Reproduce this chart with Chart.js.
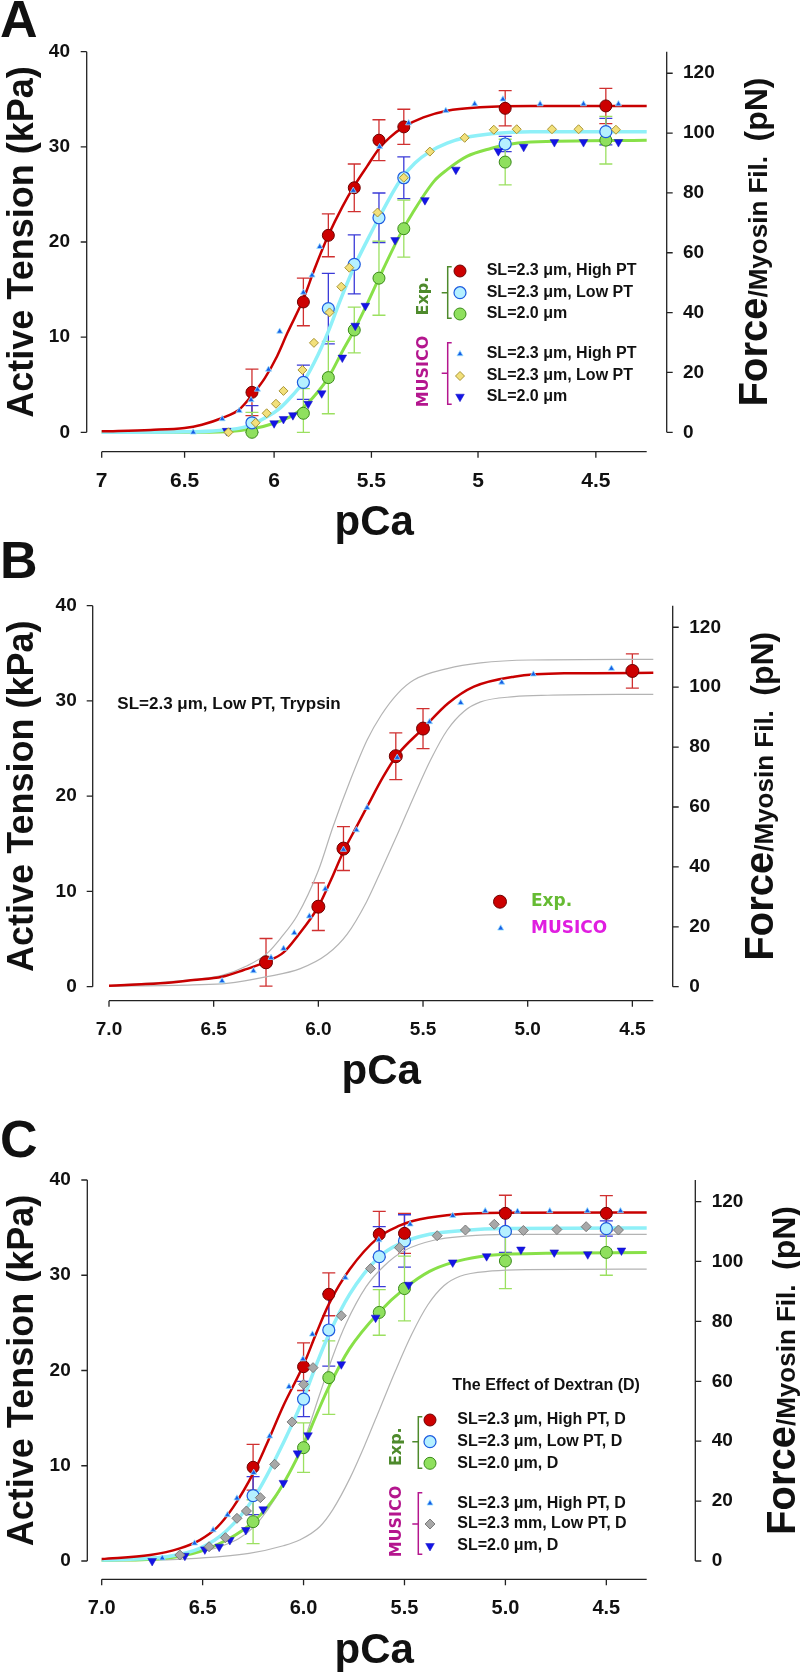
<!DOCTYPE html>
<html>
<head>
<meta charset="utf-8">
<script src="https://cdn.jsdelivr.net/npm/chart.js@4.4.1/dist/chart.umd.min.js"></script>
<style>
  html, body { margin: 0; padding: 0; background: #fff; }
  body { width: 800px; height: 1672px; position: relative; overflow: hidden; }
  .panel { position: absolute; left: 0; width: 800px; }
</style>
</head>
<body>
<div class="panel" style="top:0;height:550px"><canvas id="chartA"></canvas></div>
<div class="panel" style="top:540px;height:560px"><canvas id="chartB"></canvas></div>
<div class="panel" style="top:1085px;height:587px"><canvas id="chartC"></canvas></div>
<script>
// ---- axes ----
const kpaTicks = [0, 10, 20, 30, 40];
const pnTicks = [0, 20, 40, 60, 80, 100, 120];
const pnPerKpa = 3.18;
const pcaTicksA = [7, 6.5, 6, 5.5, 5, 4.5];
const pcaLabelsA = ['7', '6.5', '6', '5.5', '5', '4.5'];
const pcaTicksBC = [7.0, 6.5, 6.0, 5.5, 5.0, 4.5];
const pcaLabelsBC = ['7.0', '6.5', '6.0', '5.5', '5.0', '4.5'];

// ---- panel A: experiments ----
const aExpPCa = [6.12, 5.845, 5.716, 5.585, 5.463, 5.343, 4.88, 4.46];
const aHighPT = [4.2, 13.7, 20.7, 25.7, 30.7, 32.1, 34.05, 34.3];
const aHighPTErr = [2.45, 2.5, 2.25, 2.5, 2.15, 1.85, 1.85, 1.85];
const aLowPT = [1.0, 5.25, 13.0, 17.65, 22.55, 26.75, 30.3, 31.6];
const aLowPTErr = [1.8, 1.8, 3.7, 3.1, 2.6, 2.2, 0.8, 1.4];
const aSL20 = [0.0, 2.0, 5.75, 10.75, 16.2, 21.4, 28.4, 30.7];
const aSL20Err = [2.1, 2.6, 3.8, 2.4, 3.9, 3.0, 2.4, 2.5];
// panel A: MUSICO
const aMusHighPCa = [6.45, 6.285, 6.19, 6.125, 6.09, 6.03, 5.97, 5.845, 5.80, 5.76, 5.59, 5.46, 5.32, 5.146, 5.015, 4.89, 4.73, 4.55, 4.41];
const aMusHigh = [0.0, 1.4, 2.27, 3.4, 4.5, 6.6, 10.6, 14.7, 16.5, 19.5, 25.4, 30.0, 32.5, 33.8, 34.5, 35.0, 34.5, 34.5, 34.5];
const aMusLowPCa = [6.25, 6.10, 6.04, 5.99, 5.95, 5.85, 5.79, 5.71, 5.65, 5.61, 5.47, 5.343, 5.22, 5.06, 4.93, 4.83, 4.68, 4.57, 4.42];
const aMusLow = [0.0, 1.0, 2.0, 3.0, 4.35, 6.55, 9.4, 12.6, 15.3, 17.3, 23.1, 26.75, 29.5, 30.95, 31.8, 31.85, 31.85, 31.85, 31.8];
const aMusSL20PCa = [6.26, 6.0, 5.95, 5.90, 5.82, 5.75, 5.645, 5.58, 5.53, 5.385, 5.243, 5.10, 4.91, 4.80, 4.67, 4.55, 4.41];
const aMusSL20 = [0.15, 0.95, 1.4, 1.8, 3.0, 4.1, 7.85, 11.2, 13.3, 20.2, 24.4, 27.6, 29.55, 30.0, 30.5, 30.5, 30.5];
// panel A: fitted curves
const aFitRedPCa = [7.0, 6.7, 6.5, 6.4, 6.285, 6.19, 6.12, 6.05, 5.984, 5.93, 5.845, 5.79, 5.716, 5.645, 5.585, 5.52, 5.463, 5.41, 5.343, 5.25, 5.14, 4.99, 4.77, 4.3];
const aFitRed = [0.1, 0.25, 0.45, 0.8, 1.5, 2.4, 3.9, 5.7, 8.0, 10.4, 14.0, 17.0, 20.7, 23.7, 25.9, 28.0, 29.8, 31.0, 32.1, 33.1, 33.8, 34.15, 34.3, 34.3];
const aFitCyanPCa = [7.0, 6.5, 6.3, 6.15, 6.09, 5.98, 5.92, 5.845, 5.77, 5.716, 5.655, 5.585, 5.52, 5.463, 5.36, 5.29, 5.22, 5.14, 5.06, 4.93, 4.77, 4.3];
const aFitCyan = [0.0, 0.05, 0.2, 0.6, 1.1, 2.35, 3.5, 5.3, 8.1, 10.6, 13.9, 17.4, 20.2, 22.55, 26.5, 28.3, 29.5, 30.4, 30.95, 31.4, 31.6, 31.6];
const aFitGreenPCa = [7.0, 6.5, 6.26, 6.11, 6.0, 5.9, 5.83, 5.716, 5.645, 5.585, 5.52, 5.463, 5.36, 5.30, 5.20, 5.14, 5.05, 4.94, 4.88, 4.77, 4.3];
const aFitGreen = [0.0, 0.0, 0.07, 0.4, 0.95, 1.8, 2.9, 5.75, 8.5, 10.75, 13.55, 16.2, 20.8, 23.1, 26.4, 27.6, 29.0, 29.85, 30.2, 30.5, 30.7];

// ---- panel B ----
const bExpPCa = [6.25, 6.0, 5.88, 5.63, 5.5, 4.5];
const bExp = [2.56, 8.4, 14.5, 24.2, 27.1, 33.15];
const bExpErr = [2.5, 2.5, 2.3, 2.45, 2.1, 1.8];
const bMusPCa = [6.46, 6.31, 6.226, 6.166, 6.115, 6.043, 5.967, 5.88, 5.818, 5.767, 5.623, 5.469, 5.32, 5.124, 4.973, 4.60];
const bMus = [0.6, 1.65, 3.05, 4.0, 5.65, 7.4, 10.25, 14.4, 16.45, 18.8, 24.05, 27.8, 29.8, 31.95, 32.8, 33.4];
const bFitPCa = [7.0, 6.756, 6.597, 6.46, 6.357, 6.25, 6.166, 6.10, 6.0, 5.94, 5.88, 5.82, 5.767, 5.69, 5.628, 5.5, 5.38, 5.257, 5.065, 4.826, 4.4];
const bFit = [0.1, 0.35, 0.7, 1.05, 1.75, 2.6, 3.6, 5.3, 8.4, 11.2, 14.2, 16.7, 18.9, 22.05, 24.2, 27.1, 29.75, 31.5, 32.55, 32.9, 32.95];
const bRefHighPCa = [7.0, 6.6, 6.46, 6.34, 6.245, 6.18, 6.1, 6.0, 5.93, 5.847, 5.767, 5.70, 5.62, 5.544, 5.384, 5.225, 4.986, 4.4];
const bRefHigh = [0.1, 0.75, 1.2, 2.2, 3.5, 5.1, 7.5, 12.2, 16.8, 21.7, 25.9, 28.5, 30.8, 32.2, 33.4, 34.0, 34.3, 34.37];
const bRefLowPCa = [7.0, 6.6, 6.437, 6.245, 6.086, 5.958, 5.863, 5.77, 5.70, 5.62, 5.544, 5.464, 5.384, 5.305, 5.225, 5.065, 4.906, 4.4];
const bRefLow = [0.05, 0.2, 0.35, 1.05, 1.9, 3.4, 5.5, 8.9, 12.2, 16.1, 19.95, 23.8, 26.95, 28.9, 29.9, 30.45, 30.6, 30.7];

// ---- panel C: experiments ----
const cExpPCa = [6.25, 6.0, 5.875, 5.625, 5.5, 5.0, 4.5];
const cHighPT = [9.84, 20.4, 28.0, 34.3, 34.4, 36.5, 36.5];
const cHighPTErr = [2.4, 2.5, 2.25, 2.4, 2.1, 1.9, 1.85];
const cLowPT = [6.86, 17.0, 24.25, 31.95, 33.6, 34.6, 34.9];
const cLowPTErr = [2.0, 1.85, 3.8, 3.15, 2.75, 2.2, 0.8];
const cSL20 = [4.13, 11.9, 19.25, 26.1, 28.6, 31.5, 32.4];
const cSL20Err = [2.3, 2.6, 3.85, 2.4, 3.4, 2.9, 2.4];
// panel C: MUSICO
const cMusHighPCa = [6.70, 6.54, 6.448, 6.377, 6.33, 6.247, 6.168, 6.072, 6.003, 5.956, 5.793, 5.627, 5.472, 5.261, 5.10, 4.94, 4.78, 4.594, 4.43];
const cMusHigh = [0.3, 1.86, 3.25, 4.83, 6.58, 9.27, 13.1, 18.3, 21.2, 23.8, 29.75, 33.7, 35.35, 36.25, 36.75, 36.7, 36.75, 36.75, 36.75];
const cMusLowPCa = [6.613, 6.468, 6.387, 6.33, 6.283, 6.214, 6.143, 6.057, 6.0, 5.953, 5.813, 5.668, 5.525, 5.338, 5.198, 5.055, 4.911, 4.745, 4.60, 4.44];
const cMusLow = [0.63, 1.5, 2.45, 4.48, 5.25, 6.65, 10.15, 14.6, 18.55, 20.3, 25.75, 30.7, 32.9, 34.15, 34.75, 35.35, 34.7, 34.8, 35.1, 34.75];
const cMusSL20PCa = [6.75, 6.588, 6.489, 6.418, 6.365, 6.286, 6.20, 6.10, 6.03, 5.978, 5.813, 5.643, 5.479, 5.261, 5.093, 4.923, 4.758, 4.592, 4.425];
const cMusSL20 = [0.0, 0.55, 1.22, 1.5, 2.2, 3.25, 5.43, 8.2, 11.3, 13.2, 20.65, 25.55, 29.0, 31.35, 32.0, 32.7, 32.4, 32.2, 32.6];
// panel C: curves
const cFitRedPCa = [7.0, 6.76, 6.613, 6.514, 6.43, 6.35, 6.247, 6.184, 6.10, 6.0, 5.937, 5.874, 5.772, 5.627, 5.525, 5.459, 5.29, 5.0, 4.3];
const cFitRed = [0.2, 0.63, 1.33, 2.2, 3.5, 5.6, 9.3, 12.2, 16.3, 20.6, 23.9, 27.0, 30.6, 34.0, 35.2, 35.7, 36.3, 36.55, 36.6];
const cFitCyanPCa = [7.0, 6.68, 6.514, 6.38, 6.247, 6.135, 6.0, 5.937, 5.874, 5.772, 5.627, 5.525, 5.376, 5.21, 5.0, 4.3];
const cFitCyan = [0.1, 0.45, 1.33, 3.2, 6.6, 10.9, 17.1, 20.6, 23.8, 28.0, 31.9, 33.3, 34.3, 34.7, 34.9, 34.95];
const cFitGreenPCa = [7.0, 6.68, 6.514, 6.38, 6.247, 6.135, 6.0, 5.937, 5.874, 5.772, 5.627, 5.5, 5.376, 5.261, 5.13, 5.0, 4.8, 4.3];
const cFitGreen = [0.05, 0.3, 1.0, 2.2, 4.13, 6.93, 12.2, 15.3, 18.3, 22.3, 26.1, 28.6, 30.4, 31.35, 31.95, 32.2, 32.3, 32.4];
const cRefHighPCa = [7.0, 6.6, 6.4, 6.25, 6.1, 6.0, 5.92, 5.855, 5.79, 5.69, 5.6, 5.5, 5.35, 5.2, 5.0, 4.3];
const cRefHigh = [0.1, 0.7, 1.6, 3.5, 8.0, 12.5, 17.5, 21.5, 24.9, 28.8, 31.0, 32.6, 33.7, 34.1, 34.3, 34.3];
const cRefLowPCa = [7.0, 6.6, 6.27, 6.1, 6.02, 5.92, 5.855, 5.77, 5.70, 5.62, 5.544, 5.464, 5.384, 5.305, 5.225, 5.065, 4.9, 4.3];
const cRefLow = [0.0, 0.2, 0.8, 1.6, 2.2, 3.6, 5.4, 8.7, 12.0, 16.1, 20.0, 23.8, 26.9, 28.9, 29.9, 30.45, 30.6, 30.65];

// ---- texts ----
const yTitle = 'Active Tension (kPa)';
const xTitle = 'pCa';
const y2TitleParts = ['Force', '/Myosin Fil.  ', '(pN)'];

Chart.defaults.font.family = "'Liberation Sans', Arial, Helvetica, sans-serif";
Chart.defaults.color = '#111';

const FONT = "'Liberation Sans', Arial, sans-serif";
const COMIC = "'DejaVu Sans', sans-serif";

// marker styles
const sRed = { pointStyle: 'circle', pointRadius: 6, pointBackgroundColor: '#cc0000', pointBorderColor: '#6e0000', pointBorderWidth: 1 };
const sCyan = { pointStyle: 'circle', pointRadius: 6, pointBackgroundColor: '#b5f0ff', pointBorderColor: '#1d5be0', pointBorderWidth: 1.2 };
const sGreen = { pointStyle: 'circle', pointRadius: 6, pointBackgroundColor: '#8fe05e', pointBorderColor: '#3a8a1a', pointBorderWidth: 1 };
const sTriUp = { pointStyle: 'triangle', pointRadius: 3.5, pointBackgroundColor: '#155ee6', pointBorderColor: '#9adfff', pointBorderWidth: 0.8 };
const sDiaYellow = { pointStyle: 'rectRot', pointRadius: 4.5, pointBackgroundColor: '#f2e07a', pointBorderColor: '#a99535', pointBorderWidth: 1 };
const sDiaGray = { pointStyle: 'rectRot', pointRadius: 5, pointBackgroundColor: '#a8a8a8', pointBorderColor: '#7a7a7a', pointBorderWidth: 1 };
const sTriDown = { pointStyle: 'triangle', pointRotation: 180, pointRadius: 5, pointBackgroundColor: '#1414e6', pointBorderColor: '#1010c0', pointBorderWidth: 0.5 };

function pts(xs, ys) { return xs.map((x, i) => ({ x: x, y: ys[i] })); }

function markers(label, xs, ys, style, order, errors, errorColor) {
  return Object.assign({ label: label, data: pts(xs, ys), showLine: false, order: order, clip: false,
    errors: errors, errorColor: errorColor }, style);
}

function curve(xs, ys, color, width) {
  return { label: '', data: pts(xs, ys), showLine: true, pointRadius: 0, borderColor: color,
    borderWidth: width, cubicInterpolationMode: 'monotone', order: 5, clip: false, fill: false };
}

function drawMarker(ctx, ds, x, y) {
  ctx.save();
  ctx.fillStyle = ds.pointBackgroundColor;
  ctx.strokeStyle = ds.pointBorderColor;
  ctx.lineWidth = ds.pointBorderWidth;
  Chart.helpers.drawPoint(ctx, { pointStyle: ds.pointStyle, radius: ds.pointRadius,
    rotation: ds.pointRotation || 0, borderWidth: ds.pointBorderWidth }, x, y);
  ctx.restore();
}

const errorBarPlugin = {
  id: 'errorBars',
  beforeDatasetsDraw(chart) {
    const ctx = chart.ctx, sx = chart.scales.x, sy = chart.scales.y;
    chart.data.datasets.forEach(ds => {
      if (!ds.errors) return;
      ctx.save();
      ctx.strokeStyle = ds.errorColor;
      ctx.lineWidth = 1.3;
      ctx.beginPath();
      ds.data.forEach((d, i) => {
        const e = ds.errors[i];
        const px = sx.getPixelForValue(d.x);
        const t = sy.getPixelForValue(d.y + e);
        const b = sy.getPixelForValue(Math.max(d.y - e, 0));
        ctx.moveTo(px, t); ctx.lineTo(px, b);
        ctx.moveTo(px - 6.5, t); ctx.lineTo(px + 6.5, t);
        ctx.moveTo(px - 6.5, b); ctx.lineTo(px + 6.5, b);
      });
      ctx.stroke();
      ctx.restore();
    });
  }
};

function groupLegend(chart, L) {
  const ctx = chart.ctx;
  L.groups.forEach(g => {
    ctx.save();
    ctx.strokeStyle = g.color;
    ctx.lineWidth = 1.5;
    ctx.beginPath();
    ctx.moveTo(L.bracketX + 4, g.top); ctx.lineTo(L.bracketX, g.top);
    ctx.lineTo(L.bracketX, g.bottom); ctx.lineTo(L.bracketX + 4, g.bottom);
    ctx.moveTo(L.bracketX, g.mid); ctx.lineTo(L.bracketX - 6, g.mid);
    ctx.stroke();
    ctx.translate(L.labelX, g.labelY);
    ctx.rotate(-Math.PI / 2);
    ctx.fillStyle = g.color;
    ctx.font = 'bold 16px ' + COMIC;
    ctx.textAlign = 'center';
    ctx.textBaseline = 'alphabetic';
    ctx.fillText(g.label, 0, 0);
    ctx.restore();
    g.datasets.forEach((di, k) => {
      const ds = chart.data.datasets[di];
      drawMarker(ctx, ds, L.markerX, g.rows[k]);
      ctx.save();
      ctx.fillStyle = '#111';
      ctx.font = 'bold 16px ' + FONT;
      ctx.textAlign = 'left';
      ctx.textBaseline = 'middle';
      ctx.fillText(ds.label, L.textX, g.rows[k]);
      ctx.restore();
    });
  });
}

function framePlugin(geo, extra) {
  return {
    id: 'frame',
    afterDraw(chart) {
      const ctx = chart.ctx, a = chart.chartArea;
      const sx = chart.scales.x, sy = chart.scales.y, sy2 = chart.scales.y2;
      const lx = a.left - geo.gapL, rx = a.right + geo.gapR, by = a.bottom + geo.gapB;
      ctx.save();
      ctx.strokeStyle = '#222';
      ctx.lineWidth = 1.3;
      ctx.beginPath();
      ctx.moveTo(lx, a.top); ctx.lineTo(lx, a.bottom);
      sy.ticks.forEach(t => { const p = sy.getPixelForValue(t.value); ctx.moveTo(lx, p); ctx.lineTo(lx - 6, p); });
      ctx.moveTo(rx, a.top); ctx.lineTo(rx, a.bottom);
      sy2.ticks.forEach(t => { const p = sy2.getPixelForValue(t.value); ctx.moveTo(rx, p); ctx.lineTo(rx + 6, p); });
      ctx.moveTo(a.left, by); ctx.lineTo(a.right, by);
      sx.ticks.forEach(t => { const p = sx.getPixelForValue(t.value); ctx.moveTo(p, by); ctx.lineTo(p, by + 6); });
      ctx.stroke();

      ctx.fillStyle = '#111';
      ctx.textBaseline = 'alphabetic';
      // panel letter
      ctx.font = 'bold 52px ' + FONT;
      ctx.textAlign = 'left';
      ctx.fillText(geo.letter, 0, geo.letterY);
      // titles
      const cy = (a.top + a.bottom) / 2;
      ctx.save();
      ctx.translate(33, cy);
      ctx.rotate(-Math.PI / 2);
      ctx.font = 'bold 36px ' + FONT;
      ctx.textAlign = 'center';
      ctx.fillText(yTitle, 0, 0);
      ctx.restore();
      ctx.font = 'bold 42px ' + FONT;
      ctx.textAlign = 'center';
      ctx.fillText(xTitle, (a.left + a.right) / 2, by + 83.5);
      const fonts = ['bold 40px ' + FONT, 'bold 26px ' + FONT, 'bold 32px ' + FONT];
      const widths = y2TitleParts.map((s, i) => { ctx.font = fonts[i]; return ctx.measureText(s).width; });
      const total = widths.reduce((p, w) => p + w, 0);
      ctx.save();
      ctx.translate(geo.rightTitleX, cy);
      ctx.rotate(-Math.PI / 2);
      ctx.textAlign = 'left';
      let xx = -total / 2;
      y2TitleParts.forEach((s, i) => { ctx.font = fonts[i]; ctx.fillText(s, xx, 0); xx += widths[i]; });
      ctx.restore();
      ctx.restore();
      if (extra) extra(chart);
    }
  };
}

function makePanel(id, geo, xType, xMin, xTicks, xLabels, datasets, extra) {
  const tickFont = { size: 19, weight: 'bold' };
  return new Chart(document.getElementById(id), {
    type: 'scatter',
    data: { datasets: datasets },
    options: {
      responsive: true,
      maintainAspectRatio: false,
      animation: false,
      events: [],
      layout: { padding: geo.pad },
      scales: {
        x: {
          type: xType, reverse: true, min: xMin, max: 7, position: 'bottom',
          grid: { display: false, drawTicks: false }, border: { display: false },
          afterBuildTicks: s => { s.ticks = xTicks.map(v => ({ value: v })); },
          afterFit: s => { s.height = 60; },
          ticks: { padding: geo.xPad, autoSkip: false, maxRotation: 0, minRotation: 0,
            font: { size: geo.xFont, weight: 'bold', lineHeight: 1.2 },
            callback: (v, i) => xLabels[i] }
        },
        y: {
          type: 'linear', min: 0, max: 40, position: 'left',
          grid: { display: false, drawTicks: false }, border: { display: false },
          afterBuildTicks: s => { s.ticks = kpaTicks.map(v => ({ value: v })); },
          afterFit: s => { s.width = 70; },
          ticks: { padding: geo.yPad, font: tickFont }
        },
        y2: {
          type: 'linear', min: 0, max: 40 * pnPerKpa, position: 'right',
          grid: { display: false, drawTicks: false }, border: { display: false },
          afterBuildTicks: s => { s.ticks = pnTicks.map(v => ({ value: v })); },
          afterFit: s => { s.width = 100; },
          ticks: { padding: geo.y2Pad, font: tickFont }
        }
      },
      plugins: { legend: { display: false }, tooltip: { enabled: false } }
    },
    plugins: [errorBarPlugin, framePlugin(geo, extra)]
  });
}

// ---------- Panel A ----------
const redErr = '#d03030', blueErr = '#3a3ad8', greenErr = '#9be060';
makePanel('chartA',
  { pad: { left: 31.7, right: 53.3, top: 51.7, bottom: 57.7 }, xPad: 36.1, xFont: 21, yPad: 31.7, y2Pad: 36.3,
    gapL: 15, gapB: 19.4, gapR: 20, letter: 'A', letterY: 37, rightTitleX: 767 },
  'logarithmic', 4.3, pcaTicksA, pcaLabelsA,
  [
    markers('SL=2.3 μm, High PT', aExpPCa, aHighPT, sRed, 2, aHighPTErr, redErr),
    markers('SL=2.3 μm, Low PT', aExpPCa, aLowPT, sCyan, 2, aLowPTErr, blueErr),
    markers('SL=2.0 μm', aExpPCa, aSL20, sGreen, 2, aSL20Err, greenErr),
    markers('SL=2.3 μm, High PT', aMusHighPCa, aMusHigh, sTriUp, 1),
    markers('SL=2.3 μm, Low PT', aMusLowPCa, aMusLow, sDiaYellow, 1),
    markers('SL=2.0 μm', aMusSL20PCa, aMusSL20, sTriDown, 1),
    curve(aFitRedPCa, aFitRed, '#c80000', 2.5),
    curve(aFitCyanPCa, aFitCyan, '#8ff0f8', 3.5),
    curve(aFitGreenPCa, aFitGreen, '#88e048', 3)
  ],
  chart => groupLegend(chart, {
    bracketX: 447.7, markerX: 460, textX: 486.7, labelX: 428,
    groups: [
      { label: 'Exp.', color: '#4e8a2c', top: 266.7, bottom: 318.3, mid: 292.7, labelY: 296, rows: [271, 292.7, 314], datasets: [0, 1, 2] },
      { label: 'MUSICO', color: '#b4168e', top: 342.7, bottom: 404.3, mid: 373.3, labelY: 371.5, rows: [354, 376, 396.7], datasets: [3, 4, 5] }
    ]
  })
);

// ---------- Panel B ----------
makePanel('chartB',
  { pad: { left: 39, right: 46.7, top: 65.7, bottom: 53.3 }, xPad: 31.2, xFont: 19, yPad: 32.3, y2Pad: 36,
    gapL: 16.3, gapB: 14, gapR: 19.4, letter: 'B', letterY: 38, rightTitleX: 773 },
  'linear', 4.4, pcaTicksBC, pcaLabelsBC,
  [
    markers('Exp.', bExpPCa, bExp, Object.assign({}, sRed, { pointRadius: 6.5 }), 2, bExpErr, redErr),
    markers('MUSICO', bMusPCa, bMus, sTriUp, 1),
    curve(bFitPCa, bFit, '#c80000', 2.5),
    curve(bRefHighPCa, bRefHigh, '#b4b4b4', 1.2),
    curve(bRefLowPCa, bRefLow, '#b4b4b4', 1.2)
  ],
  chart => {
    const ctx = chart.ctx, ds = chart.data.datasets;
    ctx.save();
    ctx.fillStyle = '#111';
    ctx.font = 'bold 17px ' + FONT;
    ctx.textAlign = 'left';
    ctx.textBaseline = 'middle';
    ctx.fillText('SL=2.3 μm, Low PT, Trypsin', 117.3, 164.3);
    drawMarker(ctx, ds[0], 500, 361.7);
    drawMarker(ctx, ds[1], 500.7, 388.3);
    ctx.font = 'bold 17px ' + COMIC;
    ctx.fillStyle = '#66bb33';
    ctx.fillText(ds[0].label, 531, 361.7);
    ctx.fillStyle = '#e01ee0';
    ctx.fillText(ds[1].label, 531, 388.3);
    ctx.restore();
  }
);

// ---------- Panel C ----------
makePanel('chartC',
  { pad: { left: 31.7, right: 53.3, top: 95, bottom: 51 }, xPad: 35.6, xFont: 20, yPad: 31, y2Pad: 65,
    gapL: 14.4, gapB: 18.3, gapR: 48.6, letter: 'C', letterY: 72, rightTitleX: 795 },
  'linear', 4.3, pcaTicksBC, pcaLabelsBC,
  [
    markers('SL=2.3 μm, High PT, D', cExpPCa, cHighPT, sRed, 2, cHighPTErr, redErr),
    markers('SL=2.3 μm, Low PT, D', cExpPCa, cLowPT, sCyan, 2, cLowPTErr, blueErr),
    markers('SL=2.0 μm, D', cExpPCa, cSL20, sGreen, 2, cSL20Err, greenErr),
    markers('SL=2.3 μm, High PT, D', cMusHighPCa, cMusHigh, sTriUp, 1),
    markers('SL=2.3 mm, Low PT, D', cMusLowPCa, cMusLow, sDiaGray, 1),
    markers('SL=2.0 μm, D', cMusSL20PCa, cMusSL20, sTriDown, 1),
    curve(cFitRedPCa, cFitRed, '#c80000', 2.5),
    curve(cFitCyanPCa, cFitCyan, '#8ff0f8', 3.5),
    curve(cFitGreenPCa, cFitGreen, '#88e048', 3),
    curve(cRefHighPCa, cRefHigh, '#b4b4b4', 1.2),
    curve(cRefLowPCa, cRefLow, '#b4b4b4', 1.2)
  ],
  chart => {
    const ctx = chart.ctx;
    ctx.save();
    ctx.fillStyle = '#111';
    ctx.font = 'bold 16px ' + FONT;
    ctx.textAlign = 'left';
    ctx.textBaseline = 'middle';
    ctx.fillText('The Effect of Dextran (D)', 452.3, 301);
    ctx.restore();
    groupLegend(chart, {
      bracketX: 418.3, markerX: 430, textX: 457.3, labelX: 401,
      groups: [
        { label: 'Exp.', color: '#4e8a2c', top: 331.7, bottom: 383.3, mid: 356.7, labelY: 361.7, rows: [335, 356.7, 378.3], datasets: [0, 1, 2] },
        { label: 'MUSICO', color: '#b4168e', top: 407.7, bottom: 469.3, mid: 439, labelY: 436.5, rows: [418.3, 439, 461], datasets: [3, 4, 5] }
      ]
    });
  }
);
</script>
</body>
</html>
